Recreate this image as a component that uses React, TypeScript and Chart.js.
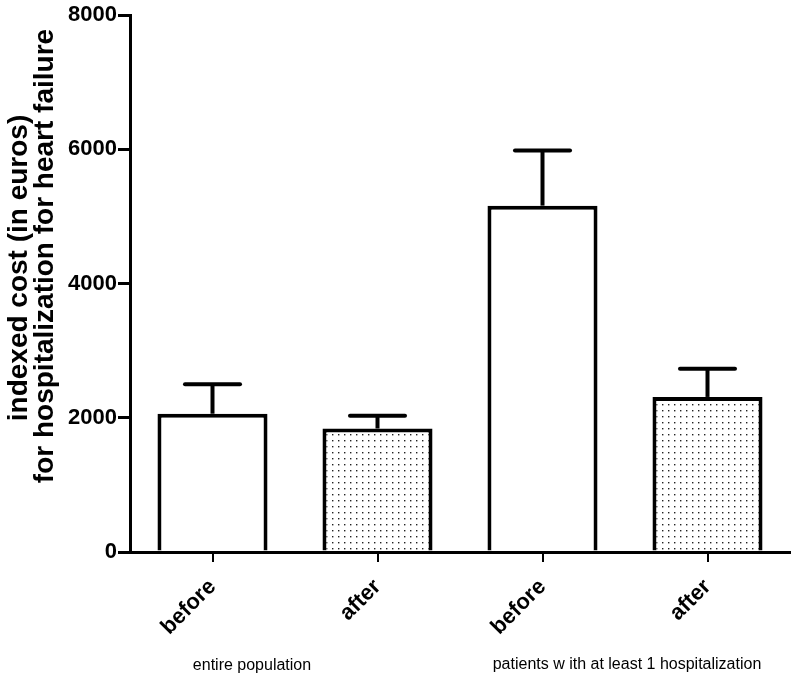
import React, { useEffect, useRef } from "react";
import { Chart, registerables } from "chart.js";

Chart.register(...registerables);

const categories = ["before", "after", "before", "after"];
const means = [2060, 1840, 5160, 2310];
const errors = [440, 190, 820, 420];
const dotted = [false, true, false, true];
const groupLabels = ["entire population", "patients w ith at least 1 hospitalization"];
const yTitleLines = ["indexed cost (in euros)", "for hospitalization for heart failure"];
const yMin = 0;
const yMax = 8000;
const yStep = 2000;

const FONT = "'Liberation Sans', Arial, sans-serif";

function makeDotPattern(): CanvasPattern | string {
  const c = document.createElement("canvas");
  c.width = 6;
  c.height = 6;
  const g = c.getContext("2d");
  if (!g) return "#fff";
  g.fillStyle = "#fff";
  g.fillRect(0, 0, 6, 6);
  g.fillStyle = "#222";
  g.fillRect(2, 2, 1.4, 1.4);
  const p = g.createPattern(c, "repeat");
  return p || "#fff";
}

const errorBarPlugin = {
  id: "errorBars",
  afterDatasetsDraw(chart: any) {
    const ctx = chart.ctx;
    const meta = chart.getDatasetMeta(0);
    const ys = chart.scales.y;
    ctx.save();
    ctx.strokeStyle = "#000";
    ctx.lineWidth = 4;
    meta.data.forEach((el: any, i: number) => {
      const top = ys.getPixelForValue(means[i] + errors[i]);
      const x = el.x;
      const half = el.width / 4;
      ctx.lineCap = "butt";
      ctx.beginPath();
      ctx.moveTo(x, el.y);
      ctx.lineTo(x, top);
      ctx.stroke();
      ctx.lineCap = "round";
      ctx.beginPath();
      ctx.moveTo(x - half, top);
      ctx.lineTo(x + half, top);
      ctx.stroke();
    });
    ctx.restore();
  },
};

const textPlugin = {
  id: "extraText",
  afterDraw(chart: any) {
    const ctx = chart.ctx;
    ctx.save();
    ctx.fillStyle = "#000";
    // y-axis title
    ctx.font = `bold 28px ${FONT}`;
    ctx.textAlign = "center";
    ctx.textBaseline = "alphabetic";
    const titlePos = [
      { x: 27, y: 268 },
      { x: 53, y: 256 },
    ];
    yTitleLines.forEach((t, i) => {
      ctx.save();
      ctx.translate(titlePos[i].x, titlePos[i].y);
      ctx.rotate(-Math.PI / 2);
      ctx.fillText(t, 0, 0);
      ctx.restore();
    });
    // group labels
    ctx.font = `16px ${FONT}`;
    ctx.textBaseline = "middle";
    const groupPos = [
      { x: 252, y: 666 },
      { x: 627, y: 665 },
    ];
    groupLabels.forEach((t, i) => {
      ctx.fillText(t, groupPos[i].x, groupPos[i].y);
    });
    ctx.restore();
  },
};

export default function App() {
  const ref = useRef<HTMLCanvasElement | null>(null);

  useEffect(() => {
    document.body.style.margin = "0";
    const canvas = ref.current;
    if (!canvas) return;
    const pattern = makeDotPattern();
    const chart = new Chart(canvas, {
      type: "bar",
      data: {
        labels: categories,
        datasets: [
          {
            data: means,
            backgroundColor: dotted.map((d) => (d ? pattern : "#ffffff")) as any,
            borderColor: "#000",
            borderWidth: 4,
            barPercentage: 0.667,
            categoryPercentage: 1,
          },
        ],
      },
      options: {
        responsive: false,
        animation: false,
        layout: { padding: { top: 15, right: 5, left: 0, bottom: 0 } },
        plugins: {
          legend: { display: false },
          tooltip: { enabled: false },
          title: { display: false },
        },
        scales: {
          x: {
            offset: true,
            grid: {
              offset: false,
              drawOnChartArea: false,
              drawTicks: true,
              tickLength: 10,
              color: "#000",
              lineWidth: 2,
            },
            border: { display: true, color: "#000", width: 3 },
            ticks: {
              color: "#000",
              font: { family: FONT, size: 22, weight: "bold" },
              maxRotation: 45,
              minRotation: 45,
              padding: 12,
            },
            afterFit(scale: any) {
              scale.height = 125;
            },
          },
          y: {
            min: yMin,
            max: yMax,
            grid: {
              drawOnChartArea: false,
              drawTicks: true,
              tickLength: 12,
              color: "#000",
              lineWidth: 3,
            },
            border: { display: true, color: "#000", width: 3 },
            ticks: {
              stepSize: yStep,
              color: "#000",
              font: { family: FONT, size: 22, weight: "bold" },
              padding: 1,
              callback: (v: any) => String(v),
            },
            afterFit(scale: any) {
              scale.width = 130;
            },
          },
        },
      },
      plugins: [errorBarPlugin, textPlugin],
    });
    return () => chart.destroy();
  }, []);

  return (
    <div style={{ width: 795, height: 677 }}>
      <canvas ref={ref} width={795} height={677} style={{ display: "block" }} />
    </div>
  );
}
